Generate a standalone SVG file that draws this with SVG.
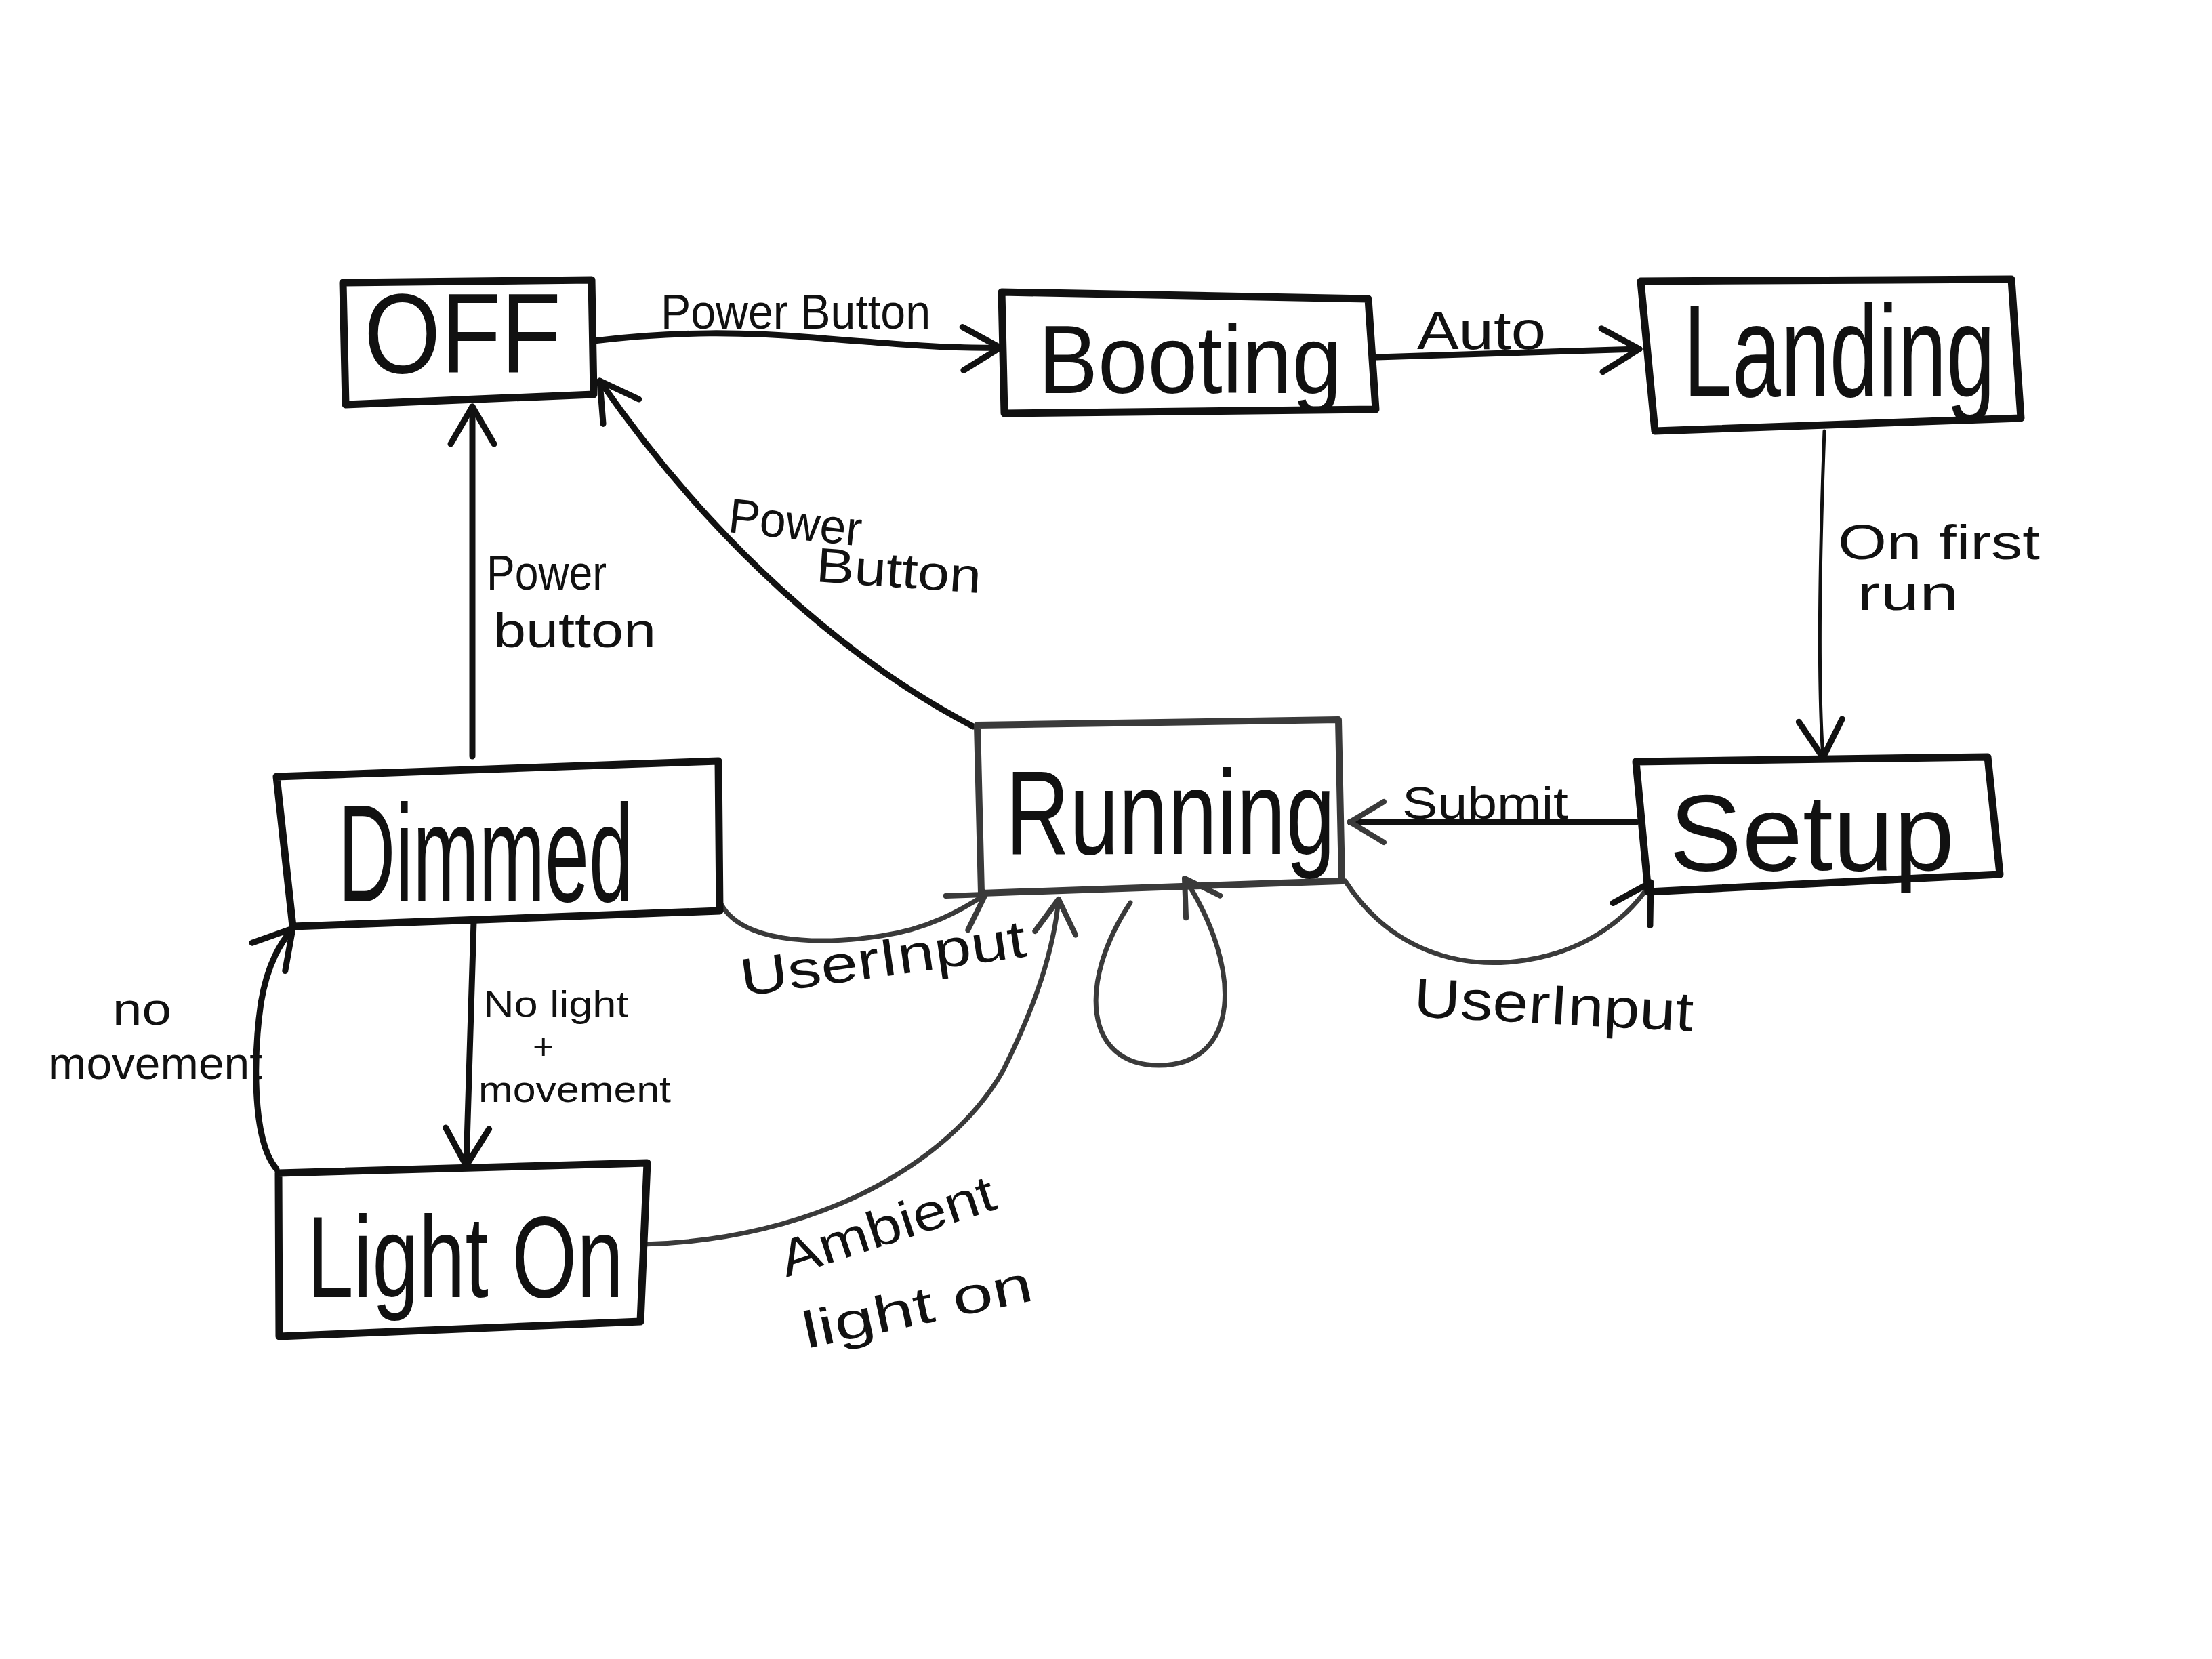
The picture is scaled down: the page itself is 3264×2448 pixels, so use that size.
<svg xmlns="http://www.w3.org/2000/svg" width="3264" height="2448" viewBox="0 0 3264 2448">
<defs>
<marker id="arr" markerUnits="userSpaceOnUse" markerWidth="90" markerHeight="90" viewBox="-70 -45 80 90" refX="0" refY="0" orient="auto">
<path d="M-55,-32 L0,0 L-55,32" fill="none" stroke="#111" stroke-width="9" stroke-linecap="round" stroke-linejoin="round"/>
</marker>
<marker id="arrg" markerUnits="userSpaceOnUse" markerWidth="90" markerHeight="90" viewBox="-70 -45 80 90" refX="0" refY="0" orient="auto">
<path d="M-50,-30 L0,0 L-50,30" fill="none" stroke="#3a3a3a" stroke-width="8" stroke-linecap="round" stroke-linejoin="round"/>
</marker>
</defs>
<style>
.box{fill:none;stroke:#111;stroke-width:11;stroke-linejoin:round}
.boxg{fill:none;stroke:#3a3a3a;stroke-width:10;stroke-linejoin:round}
.nt{font-family:"Liberation Sans","DejaVu Sans",sans-serif;fill:#111}
.lb{font-family:"Liberation Sans","DejaVu Sans",sans-serif;fill:#111}
.c{fill:none;stroke:#111;stroke-width:9;stroke-linecap:round}
.cg{fill:none;stroke:#3a3a3a;stroke-width:7;stroke-linecap:round}
.cthin{fill:none;stroke:#111;stroke-width:5;stroke-linecap:round}
</style>
<rect width="3264" height="2448" fill="#fff"/>

<g id="connectors">
<path class="c" d="M876,503 C1000,488 1100,490 1200,498 S1400,515 1476,513" marker-end="url(#arr)"/>
<path class="c" d="M2030,527 L2419,515" marker-end="url(#arr)"/>
<path class="cthin" d="M2692,636 C2686,800 2682,1000 2690,1118" marker-end="url(#arr)"/>
<path class="c" d="M2414,1213 L1992,1213" marker-end="url(#arrg)"/>
<path class="cg" d="M1985,1300 C2050,1400 2150,1432 2250,1417 C2350,1402 2410,1345 2436,1302" marker-end="url(#arr)"/>
<path class="cg" d="M1668,1332 C1590,1450 1600,1572 1710,1572 C1830,1572 1835,1430 1748,1296" marker-end="url(#arrg)"/>
<path class="c" d="M1436,1072 C1250,975 1050,800 885,562" marker-end="url(#arr)"/>
<path class="c" d="M697,1116 L697,600" marker-end="url(#arr)"/>
<path class="c" d="M699,1360 L688,1720" marker-end="url(#arr)"/>
<path class="c" d="M408,1725 C370,1680 375,1550 385,1480 C395,1420 415,1390 432,1370" marker-end="url(#arr)"/>
<path class="cg" d="M1062,1330 C1090,1390 1200,1396 1300,1381 C1370,1371 1420,1342 1454,1320" marker-end="url(#arrg)"/>
<path class="cg" d="M949,1836 C1200,1830 1400,1720 1480,1580 C1530,1480 1555,1400 1562,1327" marker-end="url(#arrg)"/>
</g>

<g id="node-off">
<polygon class="box" points="506,417 873,413 876,582 510,597"/>
<text class="nt" font-size="145" textLength="291" lengthAdjust="spacingAndGlyphs" transform="translate(537,550) scale(1,1.15)">OFF</text>
</g>
<g id="node-booting">
<polygon class="box" points="1478,431 2019,441 2030,604 1482,610"/>
<text class="nt" font-size="132" textLength="448" lengthAdjust="spacingAndGlyphs" transform="translate(1532,580) scale(1,1.08)">Booting</text>
</g>
<g id="node-landing">
<polygon class="box" points="2421,415 2968,412 2982,617 2442,636"/>
<text class="nt" font-size="129" textLength="460" lengthAdjust="spacingAndGlyphs" transform="translate(2484,585) scale(1,1.49)">Landing</text>
</g>
<g id="node-setup">
<polygon class="box" points="2414,1124 2933,1117 2951,1290 2432,1316"/>
<text class="nt" x="2463" y="1284" font-size="160" textLength="421" lengthAdjust="spacingAndGlyphs">Setup</text>
</g>
<g id="node-running">
<polygon class="boxg" points="1442,1070 1975,1062 1980,1300 1448,1318"/>
<text class="nt" font-size="130" textLength="486" lengthAdjust="spacingAndGlyphs" fill="#333" transform="translate(1484,1260) scale(1,1.36)">Running</text>
</g>
<g id="node-dimmed">
<polygon class="box" points="408,1146 1060,1123 1062,1344 432,1367"/>
<text class="nt" font-size="117" textLength="435" lengthAdjust="spacingAndGlyphs" transform="translate(499,1330) scale(1,1.75)">Dimmed</text>
</g>
<g id="node-lighton">
<polygon class="box" points="411,1731 955,1716 945,1950 412,1972"/>
<text class="nt" font-size="124" textLength="467" lengthAdjust="spacingAndGlyphs" transform="translate(453,1914) scale(1,1.37)">Light On</text>
</g>

<g id="labels">
<text class="lb" x="975" y="485" font-size="72" textLength="398" lengthAdjust="spacingAndGlyphs">Power Button</text>
<text class="lb" x="2091" y="515" font-size="80" textLength="190" lengthAdjust="spacingAndGlyphs">Auto</text>
<text class="lb" x="718" y="870" font-size="72" textLength="177" lengthAdjust="spacingAndGlyphs">Power</text>
<text class="lb" x="728" y="955" font-size="72" textLength="240" lengthAdjust="spacingAndGlyphs">button</text>
<text class="lb" x="1073" y="785" font-size="72" textLength="197" lengthAdjust="spacingAndGlyphs" transform="rotate(6 1073 785)">Power</text>
<text class="lb" x="1203" y="858" font-size="72" textLength="244" lengthAdjust="spacingAndGlyphs" transform="rotate(4 1203 858)">Button</text>
<text class="lb" x="2712" y="825" font-size="72" textLength="298" lengthAdjust="spacingAndGlyphs">On first</text>
<text class="lb" x="2740" y="900" font-size="72" textLength="150" lengthAdjust="spacingAndGlyphs">run</text>
<text class="lb" x="2069" y="1208" font-size="66" textLength="245" lengthAdjust="spacingAndGlyphs">Submit</text>
<text class="lb" x="2085" y="1500" font-size="82" textLength="413" lengthAdjust="spacingAndGlyphs" transform="rotate(3 2085 1500)">UserInput</text>
<text class="lb" x="1096" y="1470" font-size="78" textLength="425" lengthAdjust="spacingAndGlyphs" transform="rotate(-8 1096 1470)">UserInput</text>
<text class="lb" x="713" y="1500" font-size="54" textLength="214" lengthAdjust="spacingAndGlyphs">No light</text>
<text class="lb" x="786" y="1563" font-size="54">+</text>
<text class="lb" x="706" y="1626" font-size="54" textLength="284" lengthAdjust="spacingAndGlyphs">movement</text>
<text class="lb" x="166" y="1512" font-size="66" textLength="87" lengthAdjust="spacingAndGlyphs">no</text>
<text class="lb" x="71" y="1592" font-size="66" textLength="316" lengthAdjust="spacingAndGlyphs">movement</text>
<text class="lb" x="1160" y="1885" font-size="76" textLength="330" lengthAdjust="spacingAndGlyphs" transform="rotate(-18 1160 1885)">Ambient</text>
<text class="lb" x="1190" y="1990" font-size="76" textLength="345" lengthAdjust="spacingAndGlyphs" transform="rotate(-12 1190 1990)">light on</text>
</g>
</svg>
